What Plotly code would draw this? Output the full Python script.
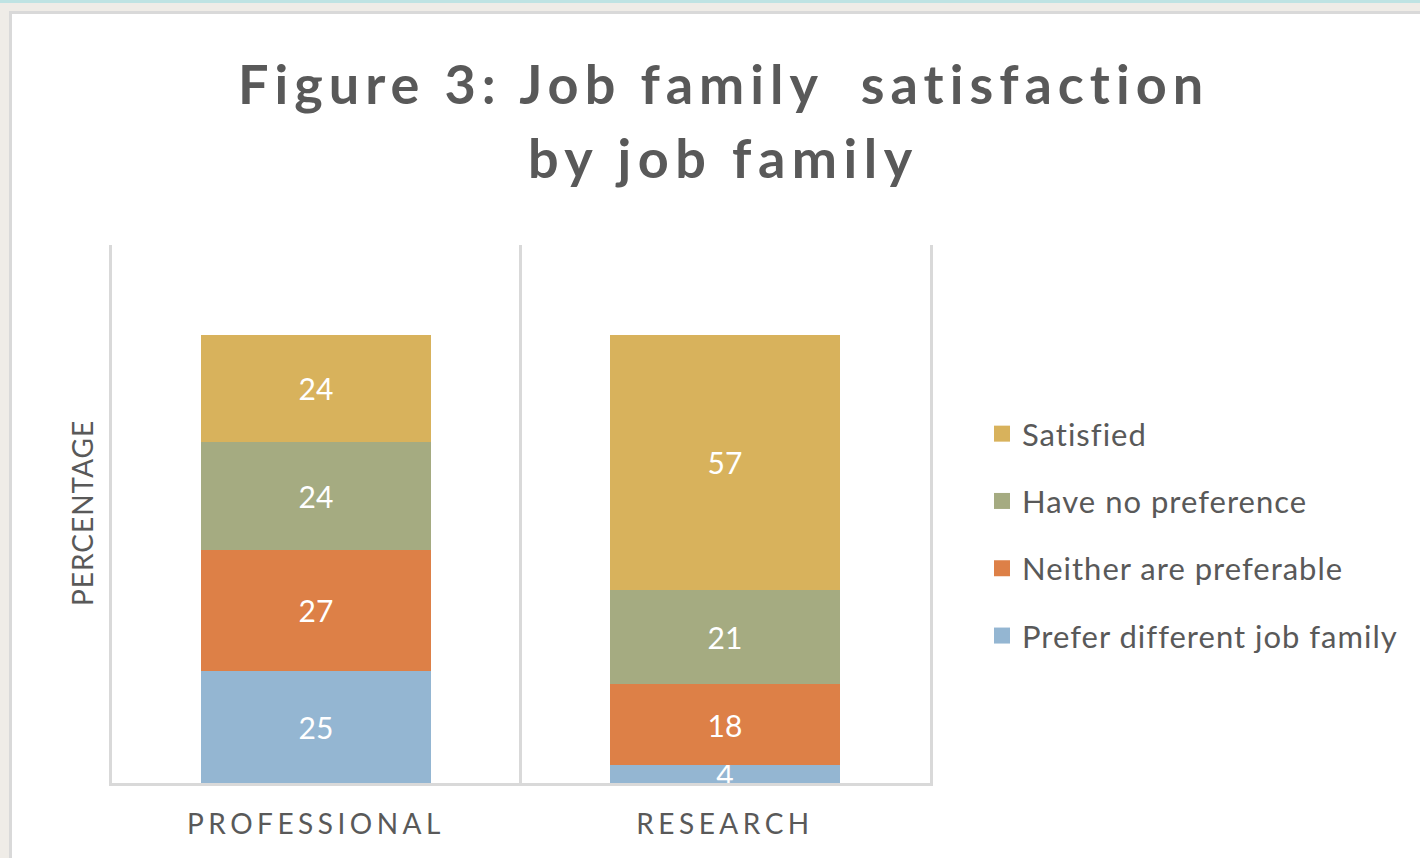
import plotly.graph_objects as go

W, H = 1420, 858

categories = ["PROFESSIONAL", "RESEARCH"]
series_names = ["Prefer different job family", "Neither are preferable", "Have no preference", "Satisfied"]
prefer_different = [25, 4]
neither = [27, 18]
no_preference = [24, 21]
satisfied = [24, 57]
series_values = [prefer_different, neither, no_preference, satisfied]
colors = ["#94B6D2", "#DD8047", "#A5AB81", "#D8B25C"]

TEXT = "#595959"
FONT = "Lato"
GRID = "#D9D9D9"


def px_x(p):
    return p / W


def px_y(p):
    return 1 - p / H


def spaced(s, ls):
    return f'<span style="letter-spacing:{ls}px">{s}</span>'


fig = go.Figure()
for name, vals, col in zip(series_names, series_values, colors):
    fig.add_trace(go.Bar(
        x=categories, y=vals, name=name, marker=dict(color=col, line=dict(width=0)),
        text=[str(v) for v in vals], textposition="inside", insidetextanchor="middle",
        textangle=0, constraintext="none",
        textfont=dict(family=FONT, size=30, color="white"),
        showlegend=False, hoverinfo="skip",
    ))
# legend entries (square markers), top to bottom: Satisfied first
for name, col in reversed(list(zip(series_names, colors))):
    fig.add_trace(go.Scatter(
        x=[None], y=[None], mode="markers", name=spaced(name, 1),
        marker=dict(symbol="square", size=18, color=col),
        legendgroup=name, showlegend=True,
    ))

fig.update_layout(
    width=W, height=H, autosize=False,
    margin=dict(l=0, r=0, t=0, b=0),
    paper_bgcolor="#EFECE7", plot_bgcolor="rgba(0,0,0,0)",
    barmode="stack", bargap=0.44,
    font=dict(family=FONT, color=TEXT),
    xaxis=dict(
        domain=[px_x(111.5), px_x(929.5)], type="category", range=[-0.5, 1.5],
        tickson="boundaries", showgrid=True, gridcolor=GRID, gridwidth=3,
        showline=True, linecolor=GRID, linewidth=3, ticks="",
        tickmode="array", tickvals=categories,
        ticktext=[spaced(c, 4.5) for c in categories],
        tickfont=dict(family=FONT, size=28, color=TEXT),
        ticklabelstandoff=14, automargin=False, zeroline=False, fixedrange=True,
    ),
    yaxis=dict(
        domain=[px_y(783), px_y(245)], range=[0, 120], showgrid=False,
        showticklabels=False, ticks="", showline=True, mirror=True,
        linecolor=GRID, linewidth=3, zeroline=False,
        automargin=False, fixedrange=True,
    ),
    legend=dict(
        x=px_x(982), y=px_y(407), xanchor="left", yanchor="top",
        traceorder="grouped", tracegroupgap=24,
        font=dict(family=FONT, size=31, color=TEXT), bgcolor="rgba(0,0,0,0)",
        itemwidth=30,
    ),
    shapes=[
        dict(type="rect", xref="paper", yref="paper", x0=px_x(0), x1=px_x(1420), y0=px_y(0), y1=px_y(3),
             fillcolor="#BFE3E3", line=dict(width=0), layer="below"),
        dict(type="rect", xref="paper", yref="paper", x0=px_x(10.5), x1=px_x(1440), y0=px_y(12.5), y1=px_y(880),
             fillcolor="white", line=dict(color=GRID, width=3), layer="below"),
    ],
    annotations=[
        dict(text=spaced("Figure 3: Job family  satisfaction", 6), x=px_x(723), y=px_y(83), xref="paper", yref="paper",
             showarrow=False, xanchor="center", yanchor="middle",
             font=dict(family=FONT, size=54, color=TEXT, weight="bold")),
        dict(text=spaced("by job family", 6.5), x=px_x(723), y=px_y(158), xref="paper", yref="paper",
             showarrow=False, xanchor="center", yanchor="middle",
             font=dict(family=FONT, size=54, color=TEXT, weight="bold")),
        dict(text=spaced("PERCENTAGE", 1), x=px_x(82), y=px_y(513), xref="paper", yref="paper",
             showarrow=False, textangle=-90, xanchor="center", yanchor="middle",
             font=dict(family=FONT, size=28, color=TEXT)),
    ],
)

fig.write_html("out.html")
